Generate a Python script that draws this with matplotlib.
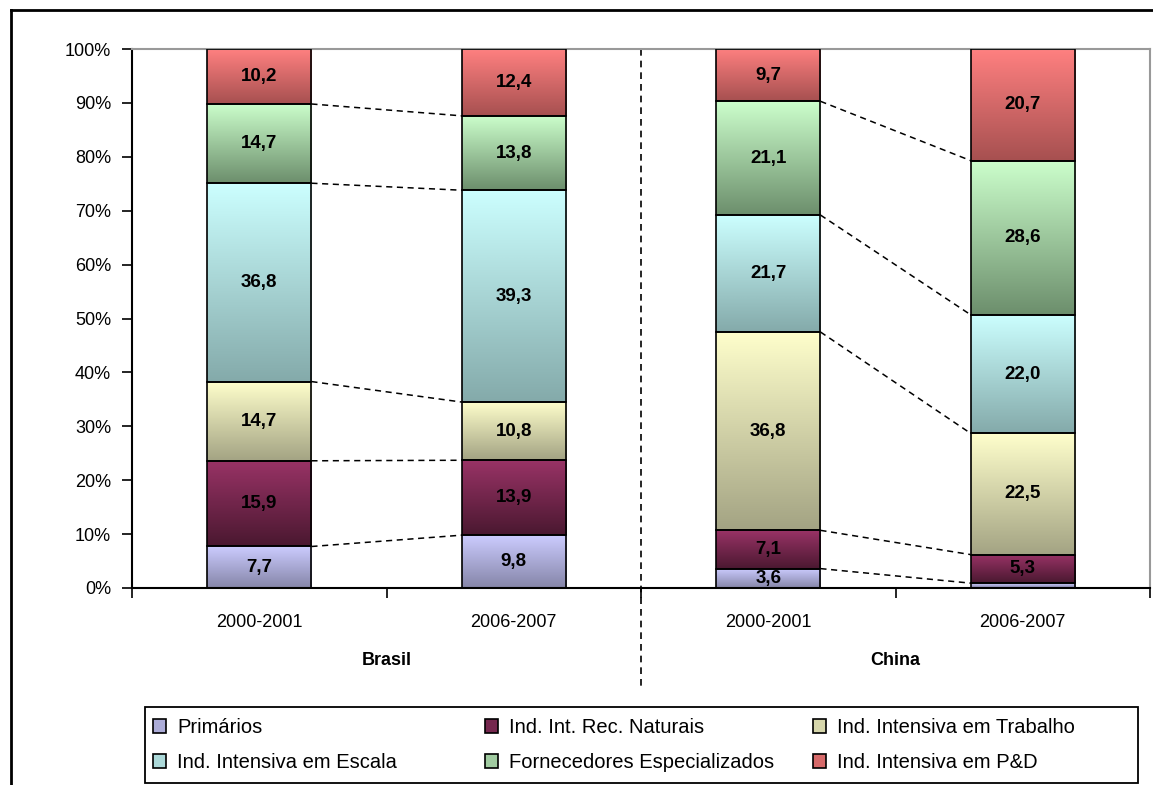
import matplotlib
matplotlib.use("Agg")
import matplotlib.pyplot as plt
import matplotlib.transforms as mtransforms
import numpy as np
from matplotlib.colors import LinearSegmentedColormap
from matplotlib.lines import Line2D
from matplotlib.patches import Patch, Rectangle

PERIODS = ["2000-2001", "2006-2007", "2000-2001", "2006-2007"]
COUNTRIES = ["Brasil", "China"]
SERIES = [
    "Primários",
    "Ind. Int. Rec. Naturais",
    "Ind. Intensiva em Trabalho",
    "Ind. Intensiva em Escala",
    "Fornecedores Especializados",
    "Ind. Intensiva em P&D",
]
PRIMARIOS = [7.7, 9.8, 3.6, 0.9]
REC_NATURAIS = [15.9, 13.9, 7.1, 5.3]
TRABALHO = [14.7, 10.8, 36.8, 22.5]
ESCALA = [36.8, 39.3, 21.7, 22.0]
FORNECEDORES = [14.7, 13.8, 21.1, 28.6]
PED = [10.2, 12.4, 9.7, 20.7]

# (top colour, bottom colour) for the vertical gradient of each series
COLORS = [
    ("#CCCCFF", "#8585A8"),
    ("#993366", "#4A1830"),
    ("#FFFFCC", "#A3A383"),
    ("#CCFFFF", "#84AAAA"),
    ("#CCFFCC", "#6C8E6C"),
    ("#FF8080", "#A65050"),
]

plt.rcParams.update({
    "font.family": ["Liberation Sans", "DejaVu Sans"],
    "font.size": 13,
})

W, H = 1153, 785

values = np.array([PRIMARIOS, REC_NATURAIS, TRABALHO, ESCALA, FORNECEDORES, PED])
cum = np.vstack([np.zeros(len(PERIODS)), np.cumsum(values, axis=0)])

fig = plt.figure(figsize=(W / 100, H / 100), dpi=100)
ax = fig.add_axes([132 / W, 1 - 588 / H, (1150 - 132) / W, (588 - 49) / H])

x = np.arange(len(PERIODS)) + 0.5
width = 0.41
grad = np.linspace(0, 1, 256).reshape(-1, 1)

for s, name in enumerate(SERIES):
    top, bottom = COLORS[s]
    cmap = LinearSegmentedColormap.from_list(name, [bottom, top])
    bars = ax.bar(x, values[s], width, bottom=cum[s], facecolor="none",
                  edgecolor="black", linewidth=1.2, zorder=3)
    for i, rect in enumerate(bars):
        x0, y0 = rect.get_x(), rect.get_y()
        ax.imshow(grad, cmap=cmap, origin="lower", aspect="auto",
                  extent=(x0, x0 + rect.get_width(), y0, y0 + rect.get_height()),
                  zorder=2)
        v = values[s][i]
        if v >= 1:
            ax.text(x[i], y0 + v / 2, f"{v:.1f}".replace(".", ","),
                    ha="center", va="center", fontweight="bold", fontsize=13.5,
                    zorder=4)

# dashed connectors between the two periods of each country
for a, b in [(0, 1), (2, 3)]:
    for k in range(1, len(SERIES)):
        ax.plot([x[a] + width / 2, x[b] - width / 2], [cum[k][a], cum[k][b]],
                color="black", linestyle=(0, (4, 3)), linewidth=1.1, zorder=1)

ax.set_xlim(0, len(PERIODS))
ax.set_ylim(0, 100)
ax.set_yticks(np.arange(0, 101, 10))
ax.set_yticklabels([f"{t}%" for t in range(0, 101, 10)])
ax.set_xticks(np.arange(0, len(PERIODS) + 1))
ax.set_xticklabels([])
ax.set_xticks(x, minor=True)
ax.set_xticklabels(PERIODS, minor=True)
ax.tick_params(axis="y", direction="out", length=7, width=1.2, pad=8)
ax.tick_params(axis="x", which="major", direction="out", length=7, width=1.2)
ax.tick_params(axis="x", which="minor", length=0, pad=19)

ax.spines["left"].set_linewidth(1.5)
ax.spines["bottom"].set_linewidth(1.5)
for side in ["top", "right"]:
    ax.spines[side].set_color("#999999")
    ax.spines[side].set_linewidth(1.5)

trans = mtransforms.blended_transform_factory(ax.transData, ax.transAxes)
for c, name in enumerate(COUNTRIES):
    ax.text(2 * c + 1, -0.135, name, transform=trans, ha="center", va="center",
            fontweight="bold", fontsize=13)
ax.plot([2, 2], [1.0, -0.19], transform=trans, color="black",
        linestyle=(0, (4, 3)), linewidth=1.2, clip_on=False)

# legend: three equal-width columns filled row by row, one frame round them
handles = [Patch(facecolor=LinearSegmentedColormap.from_list("c", [c[1], c[0]])(0.55),
                 edgecolor="black", linewidth=1.2) for c in COLORS]
columns = [[0, 3], [1, 4], [2, 5]]
col_x = [153, 485, 813]
for cx, idx in zip(col_x, columns):
    fig.legend([handles[i] for i in idx], [SERIES[i] for i in idx],
               loc="center left", bbox_to_anchor=(cx / W, 1 - 745 / H),
               frameon=False, borderpad=0, borderaxespad=0,
               handlelength=0.65, handleheight=0.65, handletextpad=0.55,
               labelspacing=0.8, fontsize=14.5)
fig.add_artist(Rectangle((145 / W, 1 - 783 / H), (1138 - 145) / W, (783 - 707) / H,
                         transform=fig.transFigure, facecolor="none",
                         edgecolor="black", linewidth=1.3))

# outer chart border (top and left visible)
fig.add_artist(Line2D([11 / W, 1], [1 - 10 / H, 1 - 10 / H],
                      color="black", linewidth=2, transform=fig.transFigure))
fig.add_artist(Line2D([11 / W, 11 / W], [0, 1 - 10 / H],
                      color="black", linewidth=2, transform=fig.transFigure))

fig.savefig("out.png", dpi=100)
